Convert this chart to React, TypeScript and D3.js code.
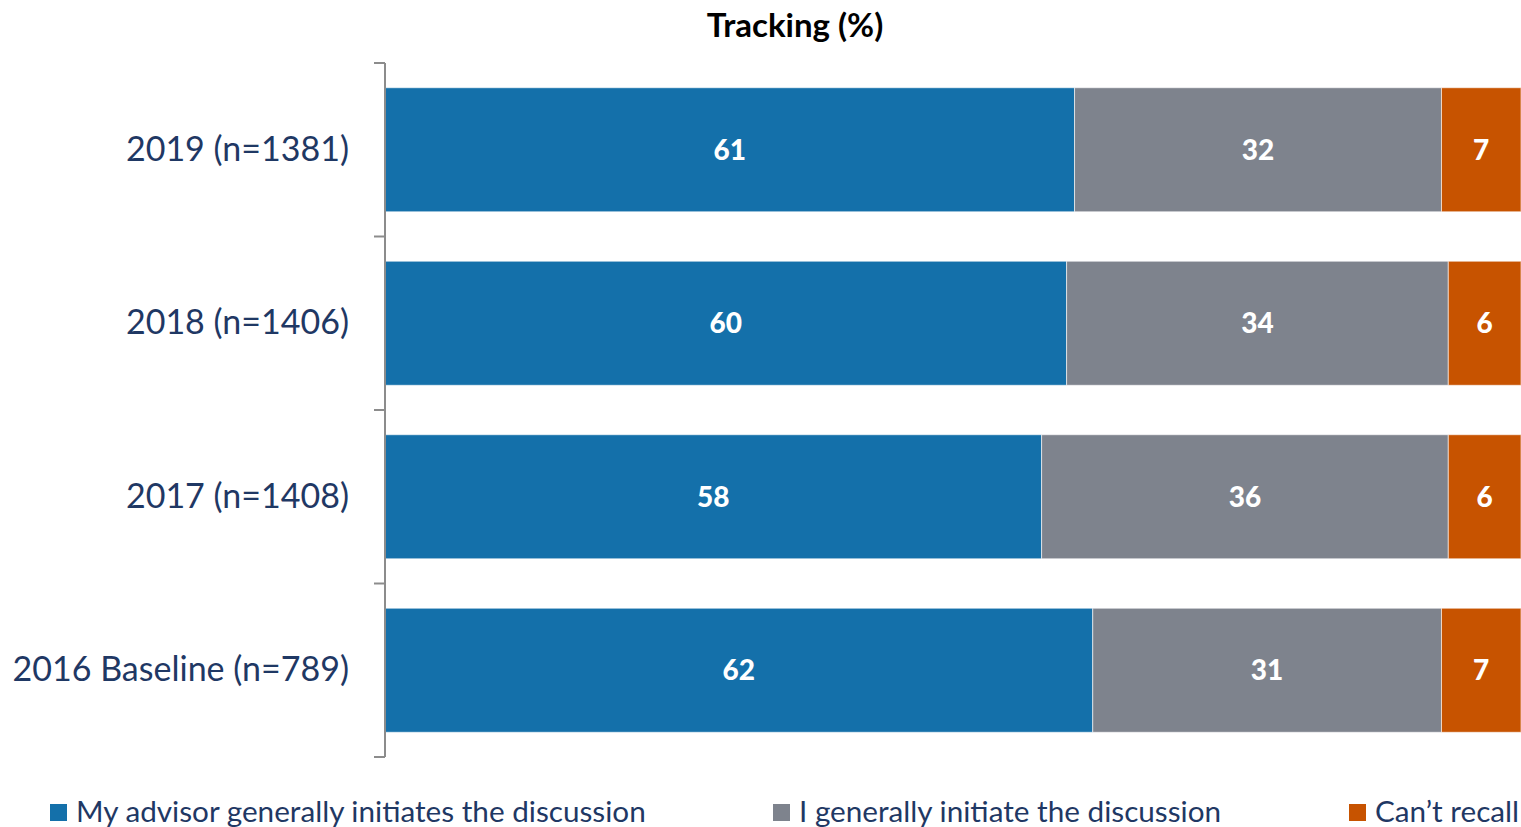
import React from "react";
import * as d3 from "d3";

const categories = ["2019 (n=1381)", "2018 (n=1406)", "2017 (n=1408)", "2016 Baseline (n=789)"];
const seriesNames = ["My advisor generally initiates the discussion", "I generally initiate the discussion", "Can\u2019t recall"];
const advisorValues = [60.7, 60.0, 57.8, 62.3];
const selfValues = [32.3, 33.6, 35.8, 30.7];
const recallValues = [7.0, 6.4, 6.4, 7.0];
const labelValues = [
  [61, 32, 7],
  [60, 34, 6],
  [58, 36, 6],
  [62, 31, 7],
];
const colors = ["#1470AA", "#7E838D", "#C75300"];
const title = "Tracking (%)";

const W = 1521;
const H = 827;
const FONT = "Lato, 'Open Sans', sans-serif";

export default function App() {
  const x = d3.scaleLinear().domain([0, 100]).range([385, 1521]);
  const y = d3.scaleBand<string>().domain(categories).range([63, 757]).paddingInner(0.285).paddingOuter(0.1425);
  const step = y.step();
  const rows = categories.map((c, i) => [advisorValues[i], selfValues[i], recallValues[i]]);
  const tickYs = categories.map((c) => (y(c) as number) - (step * 0.285) / 2).concat([757]);
  const legendX = [50, 773, 1349];

  return (
    <svg width={W} height={H} style={{ position: "absolute", left: 0, top: 0, background: "#fff" }}>
      <text x={795} y={37} textAnchor="middle" fontFamily={FONT} fontWeight={700} fontSize={33} fill="#000">
        {title}
      </text>
      {rows.map((vals, i) => {
        let acc = 0;
        const cat = categories[i];
        const y0 = y(cat) as number;
        return (
          <g key={cat}>
            {vals.map((v, j) => {
              const x0 = x(acc);
              acc += v;
              const x1 = x(acc);
              return (
                <g key={j}>
                  <rect x={x0} y={y0} width={x1 - x0} height={y.bandwidth()} fill={colors[j]} stroke="#ffffff" strokeOpacity={0.6} strokeWidth={1} />
                  <text
                    x={(x0 + x1) / 2}
                    y={y0 + y.bandwidth() / 2 + 10}
                    textAnchor="middle"
                    fontFamily={FONT}
                    fontWeight={900}
                    fontSize={28}
                    fill="#fff"
                  >
                    {d3.format("d")(labelValues[i][j])}
                  </text>
                </g>
              );
            })}
            <text
              x={349}
              y={y0 + y.bandwidth() / 2 + 11}
              textAnchor="end"
              fontFamily={FONT}
              fontSize={34}
              fill="#1F3864"
            >
              {cat}
            </text>
          </g>
        );
      })}
      <line x1={385} x2={385} y1={63} y2={757} stroke="#8C8C8C" strokeWidth={2} />
      {tickYs.map((t, i) => (
        <line key={i} x1={374} x2={385} y1={t} y2={t} stroke="#8C8C8C" strokeWidth={2} />
      ))}
      {seriesNames.map((s, i) => (
        <g key={s}>
          <rect x={legendX[i]} y={804} width={17} height={17} fill={colors[i]} />
          <text x={legendX[i] + 26} y={822} fontFamily={FONT} fontSize={29.7} fill="#1F3864">
            {s}
          </text>
        </g>
      ))}
    </svg>
  );
}
